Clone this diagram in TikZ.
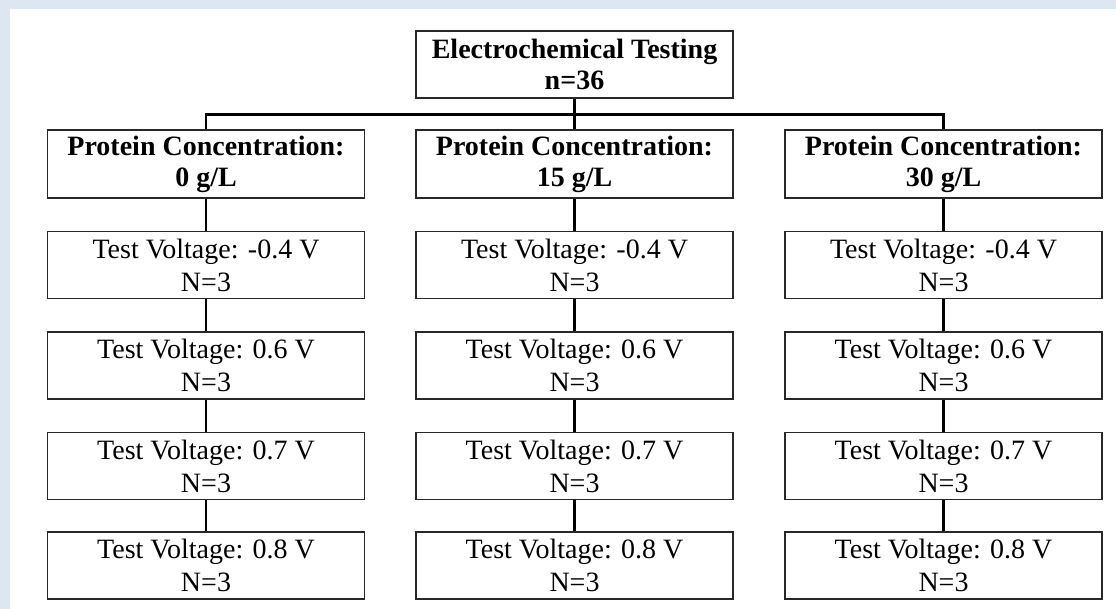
\documentclass[tikz,border=0pt]{standalone}
\usepackage{fontspec}
\setmainfont{Liberation Serif}
\definecolor{bgblue}{RGB}{221,230,241}
\definecolor{boxline}{RGB}{40,40,40}
\begin{document}
\begin{tikzpicture}[x=1pt,y=-1pt,
  box/.style={draw=boxline,line width=1.6pt,fill=white,minimum width=317pt,minimum height=67pt,inner sep=0pt,align=center,font=\fontsize{28}{33}\selectfont},
  headbox/.style={box,font=\fontsize{28}{31}\selectfont\bfseries},
  bus/.style={line width=3pt,black},
  link/.style={line width=2.4pt,black}]
\fill[bgblue] (0,0) rectangle (1116,609);
\fill[white] (10,9) rectangle (1116,609);
\useasboundingbox (0,0) rectangle (1116,609);
% top
\node[headbox] (top) at (574.5,64.5) {Electrochemical Testing\\n=36};
% level 1
\node[headbox,minimum height=68pt] (p0) at (206,164) {Protein Concentration:\\0 g/L};
\node[headbox,minimum height=68pt] (p15) at (574.5,164) {Protein Concentration:\\15 g/L};
\node[headbox,minimum height=68pt] (p30) at (943.5,164) {Protein Concentration:\\30 g/L};
\coordinate (bus) at (574.5,115);
\coordinate (busl) at (206,115);
\coordinate (busr) at (943.5,115);
\draw[bus] (top.south) -- (bus);
\draw[bus,line cap=rect] (busl) -- (busr);
\draw[link] (busl) -- (p0.north);
\draw[link] (bus) -- (p15.north);
\draw[link] (busr) -- (p30.north);
% test boxes
\foreach \c/\x in {a/206,b/574.5,c/943.5}{
  \node[box] (\c1) at (\x,265) {Test Voltage: -0.4 V\\N=3};
  \node[box] (\c2) at (\x,365.5) {Test Voltage: 0.6 V\\N=3};
  \node[box] (\c3) at (\x,466) {Test Voltage: 0.7 V\\N=3};
  \node[box] (\c4) at (\x,565.5) {Test Voltage: 0.8 V\\N=3};
  \draw[link] (\c1.south) -- (\c2.north);
  \draw[link] (\c2.south) -- (\c3.north);
  \draw[link] (\c3.south) -- (\c4.north);
}
\draw[link] (p0.south) -- (a1.north);
\draw[link] (p15.south) -- (b1.north);
\draw[link] (p30.south) -- (c1.north);
\end{tikzpicture}
\end{document}
